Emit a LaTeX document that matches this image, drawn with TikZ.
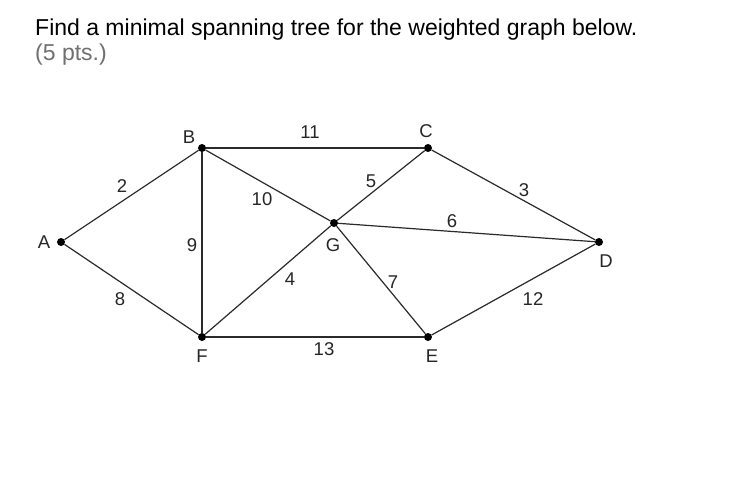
\documentclass[tikz,border=0pt]{standalone}
\usepackage{fontspec}
\setmainfont{Liberation Sans}
\definecolor{edgecol}{HTML}{2A2A2A}
\definecolor{subgray}{HTML}{707070}
\begin{document}
\begin{tikzpicture}[x=1pt,y=-1pt,
  vtx/.style={circle,fill=black,inner sep=0pt,minimum size=8pt},
  edge/.style={draw=edgecol,line width=1.2pt},
  lbl/.style={font=\fontsize{18.5}{18.5}\selectfont,inner sep=0pt,text=black!85},
  wt/.style={font=\fontsize{18.5}{18.5}\selectfont,inner sep=0pt,text=black!85}]
\useasboundingbox[fill=white] (0,0) rectangle (752,482);
\node[anchor=base west,inner sep=0pt,font=\fontsize{23}{23}\selectfont] (title) at (35,35) {Find a minimal spanning tree for the weighted graph below.};
\node[anchor=base west,inner sep=0pt,font=\fontsize{23}{23}\selectfont,text=subgray] (pts) at (35,60) {(5 pts.)};
\node[vtx] (A) at (61,242) {};
\node[vtx] (B) at (202,148) {};
\node[vtx] (C) at (428,148) {};
\node[vtx] (D) at (599,242) {};
\node[vtx] (E) at (428,337) {};
\node[vtx] (F) at (202,337) {};
\node[vtx] (G) at (334,223) {};
\draw[edge] (A) -- (B);
\draw[edge] (A) -- (F);
\draw[edge] (B) -- (C);
\draw[edge] (B) -- (F);
\draw[edge] (B) -- (G);
\draw[edge] (C) -- (G);
\draw[edge] (C) -- (D);
\draw[edge] (G) -- (D);
\draw[edge] (F) -- (G);
\draw[edge] (G) -- (E);
\draw[edge] (F) -- (E);
\draw[edge] (E) -- (D);
\node[lbl] (lA) at (44,242) {A};
\node[lbl] (lB) at (189,137) {B};
\node[lbl] (lC) at (426,131) {C};
\node[lbl] (lD) at (606,261) {D};
\node[lbl] (lE) at (432,356) {E};
\node[lbl] (lF) at (202,356) {F};
\node[lbl] (lG) at (333,245) {G};
\node[wt] (w2) at (122,186) {2};
\node[wt] (w8) at (120,299) {8};
\node[wt] (w9) at (192,245) {9};
\node[wt] (w10) at (262,199) {10};
\node[wt] (w11) at (310,132) {11};
\node[wt] (w5) at (371,181) {5};
\node[wt] (w3) at (524,190) {3};
\node[wt] (w6) at (452,221) {6};
\node[wt] (w4) at (290,279) {4};
\node[wt] (w7) at (393,282) {7};
\node[wt] (w13) at (324,349) {13};
\node[wt] (w12) at (533,299) {12};
\end{tikzpicture}
\end{document}
